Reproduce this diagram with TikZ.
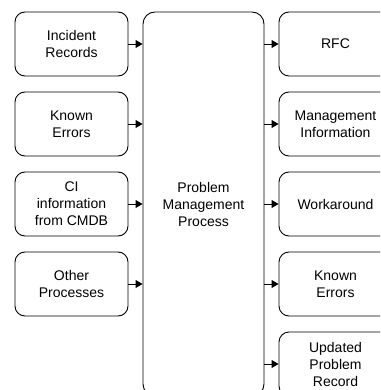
\documentclass[tikz,border=0pt]{standalone}
\usepackage{fontspec}
\setmainfont{Liberation Sans}
\usetikzlibrary{arrows.meta}
\begin{document}
\begin{tikzpicture}[x=1pt,y=-1pt,
  box/.style={draw=black, line width=0.9pt, rounded corners=10pt, minimum width=113pt, minimum height=64pt, inner sep=0pt, align=center, font=\fontsize{14}{17}\selectfont},
  big/.style={draw=black, line width=0.9pt, rounded corners=12pt, minimum width=121pt, minimum height=384pt, inner sep=0pt, align=center, font=\fontsize{14}{17}\selectfont},
  arr/.style={line width=0.9pt, -{Triangle[length=7pt,width=8pt]}}]
\useasboundingbox (0,0) rectangle (380,390);
\clip (0,0) rectangle (380,390);
\node[big] (pm) at (203.5,204) {Problem\\Management\\Process};
\node[box] (in1) at (71.5,44) {Incident\\Records};
\node[box] (in2) at (71.5,124) {Known\\Errors};
\node[box] (in3) at (71.5,204) {CI\\information\\from CMDB};
\node[box] (in4) at (71.5,284) {Other\\Processes};
\node[box] (out1) at (335.5,44) {RFC};
\node[box] (out2) at (335.5,124) {Management\\Information};
\node[box] (out3) at (335.5,204) {Workaround};
\node[box] (out4) at (335.5,284) {Known\\Errors};
\node[box] (out5) at (335.5,364) {Updated\\Problem\\Record};
\foreach \i in {1,...,4} {
  \draw[arr] (in\i.east) -- (pm.west |- in\i.east);
}
\foreach \i in {1,...,5} {
  \draw[arr] (pm.east |- out\i.west) -- (out\i.west);
}
\end{tikzpicture}
\end{document}
